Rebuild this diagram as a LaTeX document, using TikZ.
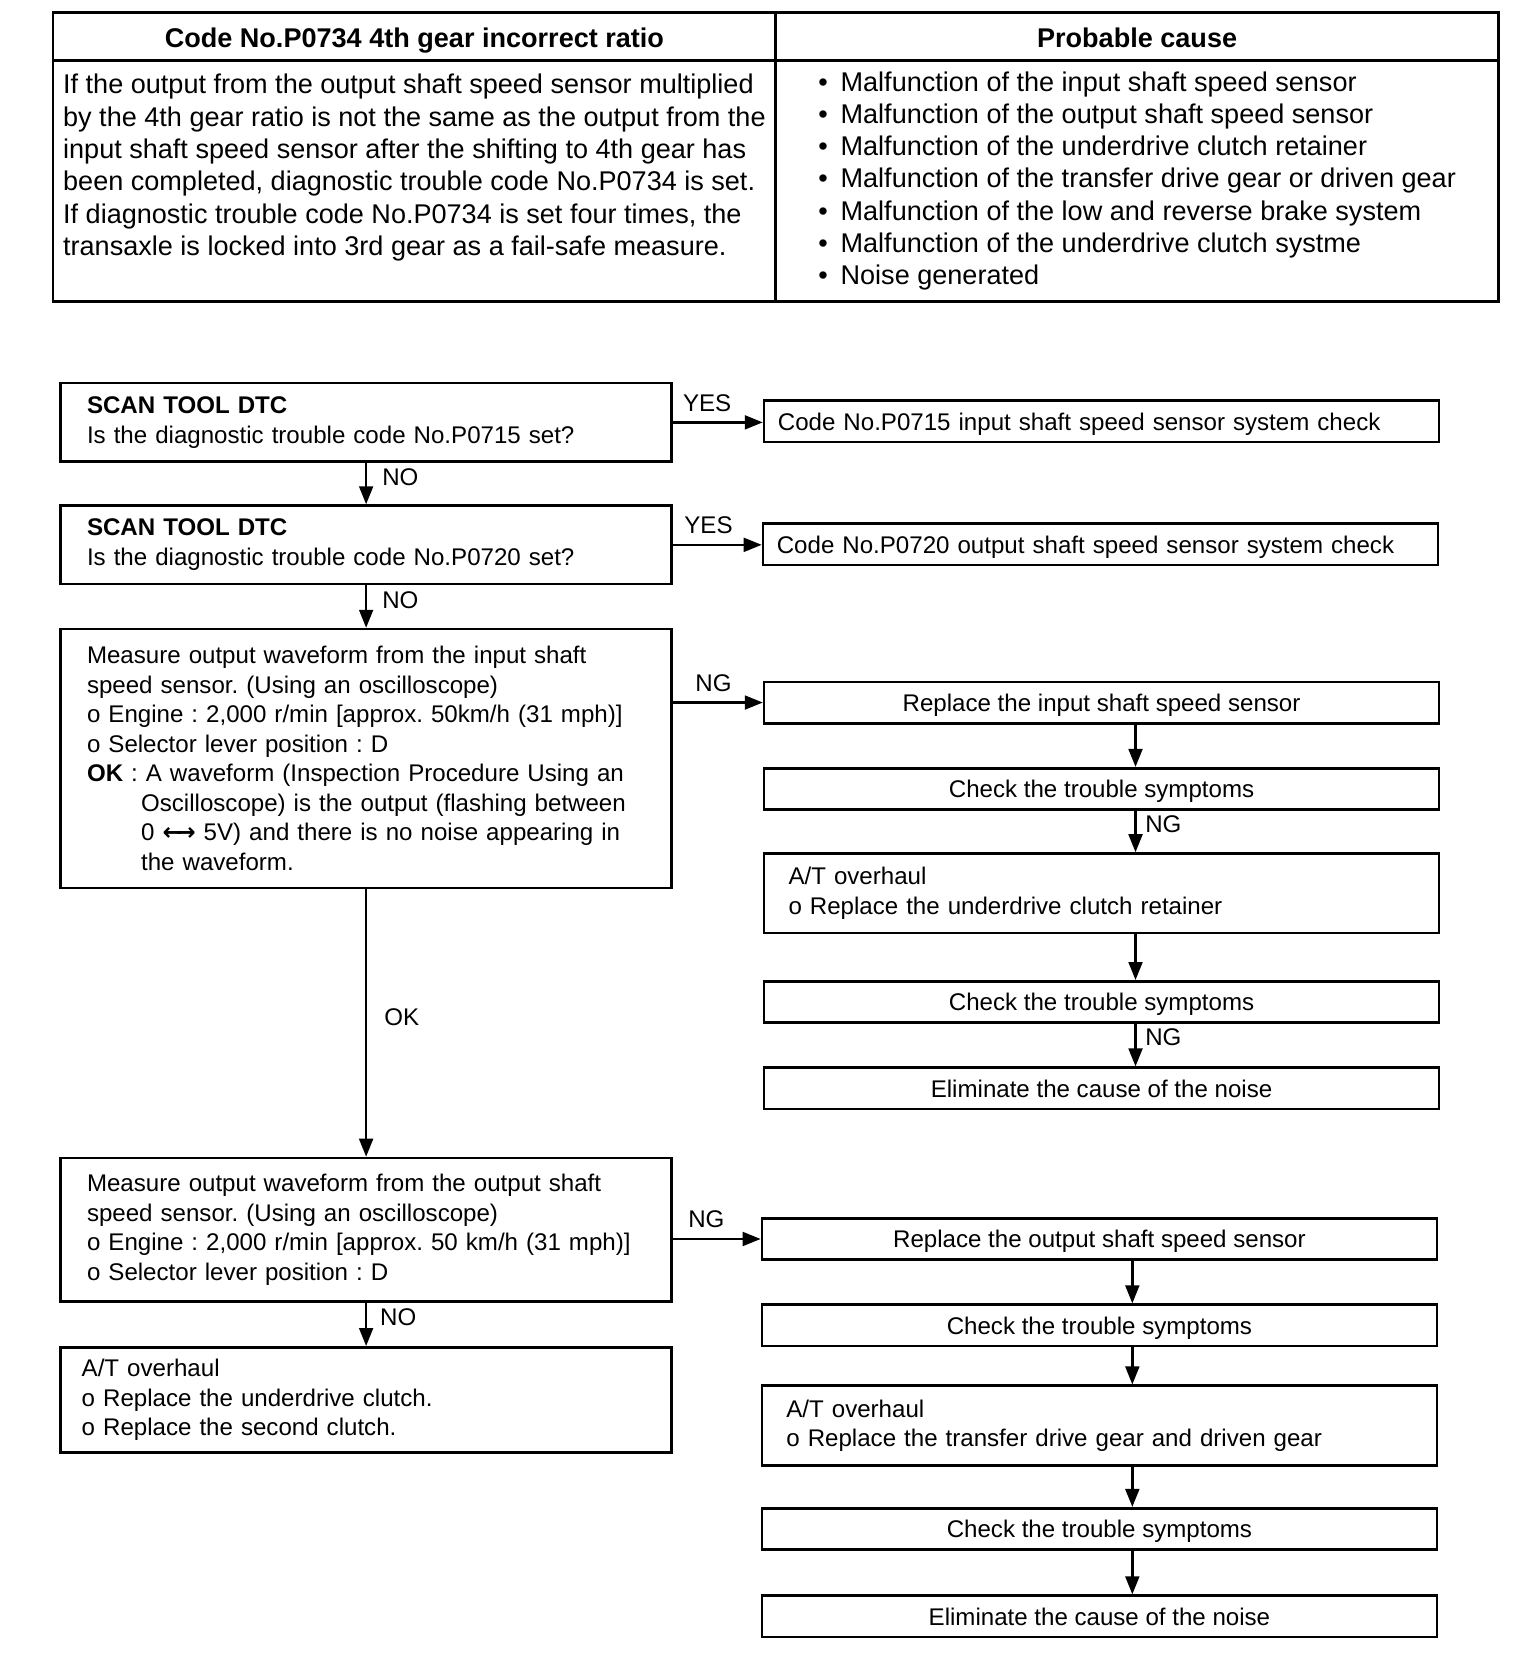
\documentclass[tikz,border=0pt]{standalone}
\usepackage{fontspec}
\setmainfont{Liberation Sans}
\newfontfamily\arrowfont{DejaVu Sans}
\usetikzlibrary{arrows.meta,positioning}

\newcommand{\flowfont}{\fontsize{11.35pt}{13.9pt}\selectfont}
\newcommand{\tabfont}{\fontsize{12.75pt}{15.2pt}\selectfont}
\newcommand{\causeitem}{\makebox[10.5pt][l]{•}}
\newcommand{\okind}{\hspace*{25.5pt}}
\newcommand{\twoway}{{\arrowfont\bfseries ←\kern-0.3em→}}
\frenchspacing

\begin{document}
\begin{tikzpicture}[x=0.5pt,y=-0.5pt,line width=1.2pt,>={Triangle[length=8.5pt,width=6.5pt]},
  cell/.style={draw,outer sep=0pt,minimum width=340.5pt,font=\tabfont},
  hdcell/.style={cell,minimum height=22.5pt,font=\tabfont\bfseries,text height=12pt,text depth=1.5pt},
  box/.style={draw,font=\flowfont,inner xsep=12.5pt,text width=263pt,align=left},
  rbox/.style={draw,font=\flowfont,minimum width=318pt,minimum height=19.5pt,align=center},
  oneline/.style={text height=10.7pt,text depth=2.5pt,inner ysep=2.5pt},
  lab/.style={font=\flowfont,inner sep=2pt}]
\useasboundingbox (0,0) rectangle (1447,1568);
% table
\node[hdcell] (codeHd) at (390.5,34.5) {Code No.P0734 4th gear incorrect ratio};
\node[hdcell,right=0pt of codeHd] (causeHd) {Probable cause};
\node[cell,minimum height=113.5pt,align=left,below=0pt of codeHd] (codeTxt) {If the output from the output shaft speed sensor multiplied\\by the 4th gear ratio is not the same as the output from the\\input shaft speed sensor after the shifting to 4th gear has\\been completed, diagnostic trouble code No.P0734 is set.\\If diagnostic trouble code No.P0734 is set four times, the\\transaxle is locked into 3rd gear as a fail-safe measure.\\\mbox{}};
\node[cell,minimum height=113.5pt,align=left,below=0pt of causeHd] (causeTxt) {\causeitem Malfunction of the input shaft speed sensor\\\causeitem Malfunction of the output shaft speed sensor\\\causeitem Malfunction of the underdrive clutch retainer\\\causeitem Malfunction of the transfer drive gear or driven gear\\\causeitem Malfunction of the low and reverse brake system\\\causeitem Malfunction of the underdrive clutch systme\\\causeitem Noise generated};
% left column
\node[box,minimum height=37pt] (scanA) at (345,398) {\textbf{SCAN TOOL DTC}\\Is the diagnostic trouble code No.P0715 set?};
\node[box,minimum height=37pt,below=19.5pt of scanA] (scanB) {\textbf{SCAN TOOL DTC}\\Is the diagnostic trouble code No.P0720 set?};
\node[box,minimum height=122pt,below=20pt of scanB] (measIn) {Measure output waveform from the input shaft\\speed sensor. (Using an oscilloscope)\\o Engine : 2,000 r/min [approx. 50km/h (31 mph)]\\o Selector lever position : D\\\textbf{OK} : A waveform (Inspection Procedure Using an\\\okind Oscilloscope) is the output (flashing between\\\okind 0 \twoway\ 5V) and there is no noise appearing in\\\okind the waveform.};
\node[box,minimum height=67.5pt,below=126pt of measIn] (measOut) {Measure output waveform from the output shaft\\speed sensor. (Using an oscilloscope)\\o Engine : 2,000 r/min [approx. 50 km/h (31 mph)]\\o Selector lever position : D};
\node[box,minimum height=49.5pt,inner xsep=10pt,text width=268pt,below=20.5pt of measOut] (ohA) {A/T overhaul\\o Replace the underdrive clutch.\\o Replace the second clutch.};
% right column
\node[rbox,oneline,align=left,inner xsep=5.5pt,text width=305pt] (chkA) at (1038,397) {Code No.P0715 input shaft speed sensor system check};
\node[rbox,oneline,align=left,inner xsep=5.5pt,text width=305pt] (chkB) at (1037,513) {Code No.P0720 output shaft speed sensor system check};
\node[rbox,oneline] (repIn) at (1038,662) {Replace the input shaft speed sensor};
\node[rbox,oneline,below=20pt of repIn] (symIn1) {Check the trouble symptoms};
\node[rbox,align=left,inner xsep=11.5pt,text width=295pt,minimum height=37.5pt,below=19.5pt of symIn1] (ohIn) {A/T overhaul\\o Replace the underdrive clutch retainer};
\node[rbox,oneline,below=21.5pt of ohIn] (symIn2) {Check the trouble symptoms};
\node[rbox,oneline,below=20pt of symIn2] (elimIn) {Eliminate the cause of the noise};
\node[rbox,oneline] (repOut) at (1036,1167.5) {Replace the output shaft speed sensor};
\node[rbox,oneline,below=20pt of repOut] (symOut1) {Check the trouble symptoms};
\node[rbox,align=left,inner xsep=11.5pt,text width=295pt,minimum height=37.5pt,below=17.5pt of symOut1] (ohOut) {A/T overhaul\\o Replace the transfer drive gear and driven gear};
\node[rbox,oneline,below=19pt of ohOut] (symOut2) {Check the trouble symptoms};
\node[rbox,oneline,below=20.5pt of symOut2] (elimOut) {Eliminate the cause of the noise};
% connectors
\draw[->] (scanA.east) -- node[lab,above=2.5pt,pos=0.38]{YES} (scanA.east -| chkA.west);
\draw[->] (scanA) -- node[lab,right=5pt,pos=0.34]{NO} (scanB);
\draw[->] (scanB.east) -- node[lab,above=2.5pt,pos=0.4]{YES} (scanB.east -| chkB.west);
\draw[->] (scanB) -- node[lab,right=5pt,pos=0.34]{NO} (measIn);
\draw[->] (repIn.west -| measIn.east) -- node[lab,above=2.5pt,pos=0.45]{NG} (repIn.west);
\draw[->] (measIn) -- node[lab,right=6pt,pos=0.48]{OK} (measOut);
\draw[->] (repOut.west -| measOut.east) -- node[lab,above=2.5pt,pos=0.38]{NG} (repOut.west);
\draw[->] (measOut) -- node[lab,right=4pt,pos=0.34]{NO} (ohA);
\foreach \a/\b in {repIn/symIn1,ohIn/symIn2}
  \draw[->] ([xshift=16pt]\a.south) -- ([xshift=16pt]\b.north);
\foreach \a/\b in {symIn1/ohIn,symIn2/elimIn}
  \draw[->] ([xshift=16pt]\a.south) -- node[lab,right=2pt,pos=0.32]{NG} ([xshift=16pt]\b.north);
\foreach \a/\b in {repOut/symOut1,symOut1/ohOut,ohOut/symOut2,symOut2/elimOut}
  \draw[->] ([xshift=15.5pt]\a.south) -- ([xshift=15.5pt]\b.north);
\end{tikzpicture}
\end{document}
